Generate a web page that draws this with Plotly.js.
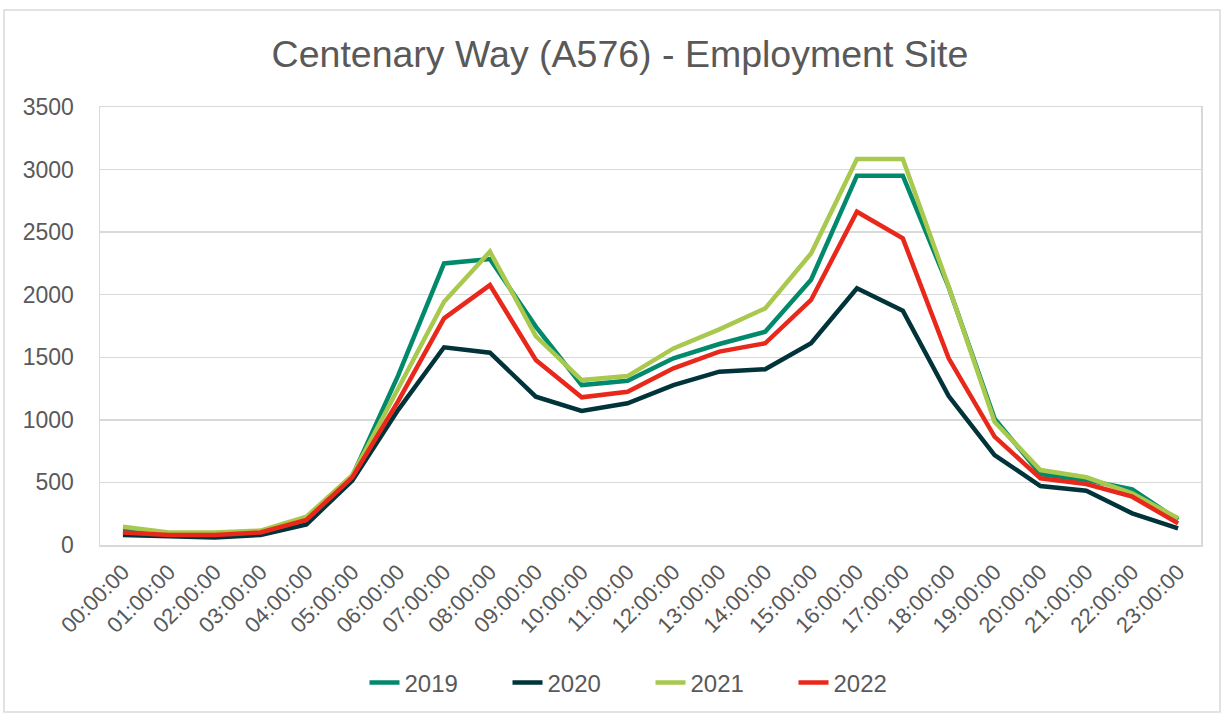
<!DOCTYPE html>
<html><head><meta charset="utf-8">
<script src="https://cdn.plot.ly/plotly-3.0.1.min.js"></script>
<style>html,body{margin:0;padding:0;background:#fff}#c{width:1221px;height:713px}</style>
</head><body><div id="c"></div>
<script>
const hours = ["00:00:00","01:00:00","02:00:00","03:00:00","04:00:00","05:00:00","06:00:00","07:00:00","08:00:00","09:00:00","10:00:00","11:00:00","12:00:00","13:00:00","14:00:00","15:00:00","16:00:00","17:00:00","18:00:00","19:00:00","20:00:00","21:00:00","22:00:00","23:00:00"];
const y2019 = [115, 90, 90, 100, 205, 550, 1355, 2250, 2285, 1745, 1278, 1313, 1492, 1606, 1704, 2120, 2951, 2951, 2060, 1010, 567, 519, 445, 200];
const y2020 = [80, 70, 60, 80, 165, 515, 1080, 1580, 1537, 1185, 1071, 1132, 1278, 1385, 1404, 1612, 2051, 1872, 1190, 719, 471, 434, 253, 133];
const y2021 = [146, 100, 100, 115, 226, 559, 1250, 1944, 2344, 1670, 1318, 1350, 1571, 1723, 1891, 2330, 3084, 3084, 2064, 985, 599, 541, 413, 213];
const y2022 = [100, 80, 80, 100, 200, 541, 1150, 1811, 2077, 1478, 1180, 1225, 1412, 1545, 1612, 1958, 2663, 2450, 1492, 866, 533, 487, 386, 173];
const seriesNames = ["2019","2020","2021","2022"];
const colors = ["#00896A","#00333A","#A8C84E","#E8281A"];
const data = [y2019,y2020,y2021,y2022].map((ys,i)=>({
  x: hours, y: ys, type:'scatter', mode:'lines', name: seriesNames[i],
  line:{color:colors[i], width:4.5}
}));
const L=100, R=1201, T=107, B=545;
const W=R-L, H=B-T;
const layout = {
  width:1221, height:713,
  margin:{l:L, r:1221-R, t:T, b:713-B, autoexpand:false},
  paper_bgcolor:'#fff', plot_bgcolor:'#fff',
  font:{family:'Liberation Sans, Arial, sans-serif', color:'#595959'},
  title:{text:'Centenary Way (A576) - Employment Site', font:{size:37.5, color:'#595959'}, x:(620-0)/1221, xanchor:'center', y:1-54/713, yanchor:'middle'},
  xaxis:{type:'category', tickangle:-45, tickfont:{size:22, color:'#595959'}, showgrid:false, showline:true, mirror:true, linecolor:'#D9D9D9', linewidth:1.5, ticks:'', range:[-0.5,23.5], automargin:false, ticklabelstandoff:4, fixedrange:true},
  yaxis:{range:[0,3500], dtick:500, tickfont:{size:23, color:'#595959'}, gridcolor:'#D9D9D9', gridwidth:1.5, zeroline:false, showline:true, mirror:true, linecolor:'#D9D9D9', linewidth:1.5, ticks:'', automargin:false, ticklabelstandoff:20, fixedrange:true},
  showlegend:true,
  legend:{orientation:'h', x:0.5, xanchor:'center', y:-(683-B)/H, yanchor:'middle', font:{size:24, color:'#595959'}, entrywidth:98, entrywidthmode:'pixels'},
  shapes:[{type:'rect', xref:'paper', yref:'paper', x0:(4-L)/W, x1:(1220-L)/W, y0:(B-712)/H, y1:(B-10)/H, line:{color:'#D9D9D9', width:1.5}, fillcolor:'rgba(0,0,0,0)', layer:'below'}]
};
Plotly.newPlot('c', data, layout, {displayModeBar:false, staticPlot:true});
</script></body></html>
